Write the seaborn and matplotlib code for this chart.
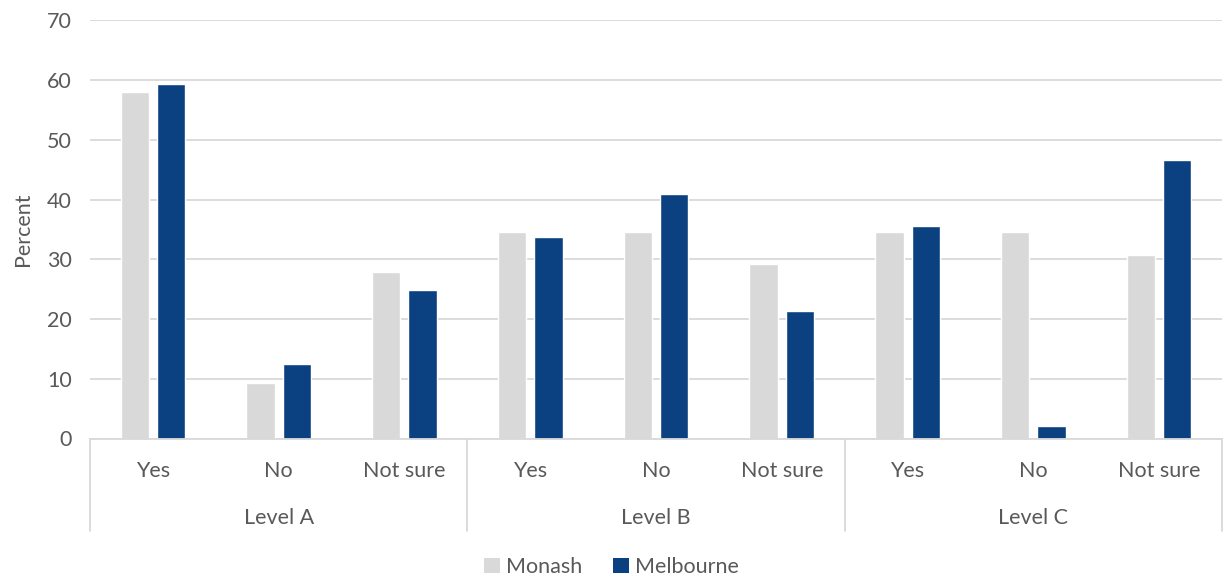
import matplotlib
matplotlib.use("Agg")
import matplotlib.pyplot as plt
from matplotlib.lines import Line2D
from matplotlib.patches import Patch
import seaborn as sns
import pandas as pd

levels = ["Level A", "Level B", "Level C"]
answers = ["Yes", "No", "Not sure"]
schools = ["Monash", "Melbourne"]
monash = [58.0, 9.3, 27.8, 34.5, 34.5, 29.2, 34.5, 34.5, 30.7]
melbourne = [59.4, 12.4, 24.9, 33.8, 41.0, 21.3, 35.5, 2.1, 46.6]
colors = {"Monash": "#D9D9D9", "Melbourne": "#0B4180"}

rows = []
cats = []
for i, lvl in enumerate(levels):
    for j, ans in enumerate(answers):
        k = i * 3 + j
        cat = f"{lvl}|{ans}"
        cats.append(cat)
        rows.append({"cat": cat, "school": "Monash", "value": monash[k]})
        rows.append({"cat": cat, "school": "Melbourne", "value": melbourne[k]})
df = pd.DataFrame(rows)

sns.set_theme(style="white")
plt.rcParams["font.family"] = ["Lato", "DejaVu Sans"]
text_color = "#595959"
grid_color = "#D9D9D9"
fs = 15.5

W, H = 1223, 579
fig = plt.figure(figsize=(W / 100, H / 100), dpi=100)
left, right, top, bottom = 90, 1222, 20.3, 438.5
ax = fig.add_axes([left / W, 1 - bottom / H, (right - left) / W, (bottom - top) / H])

sns.barplot(data=df, x="cat", y="value", hue="school", order=cats,
            hue_order=schools, palette=colors, width=0.577, gap=0.22,
            saturation=1, legend=False, ax=ax)

ax.set_ylim(0, 70)
ax.set_xlim(-0.5, len(cats) - 0.5)
ax.set_yticks(range(0, 71, 10))
ax.yaxis.grid(True, color=grid_color, linewidth=1.3)
ax.set_axisbelow(True)
for s in ["top", "right", "left"]:
    ax.spines[s].set_visible(False)
ax.spines["bottom"].set_color(grid_color)
ax.spines["bottom"].set_linewidth(1.3)
ax.tick_params(axis="y", length=0, labelsize=fs, labelcolor=text_color, pad=13)
ax.tick_params(axis="x", length=0, labelsize=fs, labelcolor=text_color, pad=16)
ax.set_xticks(range(len(cats)))
ax.set_xticklabels([c.split("|")[1] for c in cats])
ax.set_xlabel("")
ax.set_ylabel("Percent", fontsize=fs, color=text_color, labelpad=10)

# group labels and separators below the axis
trans = ax.get_xaxis_transform()
for i, lvl in enumerate(levels):
    ax.text(i * 3 + 1, -(518 - bottom) / (bottom - top), lvl, transform=trans,
            ha="center", va="center", fontsize=fs, color=text_color)
for b in [-0.5, 2.5, 5.5, 8.5]:
    ax.add_line(Line2D([b, b], [0, -(531 - bottom) / (bottom - top)],
                       transform=trans, color=grid_color, linewidth=1.3,
                       clip_on=False))

handles = [Patch(facecolor=colors[s], edgecolor="none", label=s) for s in schools]
fig.legend(handles=handles, loc="center", bbox_to_anchor=(0.5, 1 - 567 / H),
           ncol=2, frameon=False, fontsize=fs, handlelength=0.75,
           handleheight=0.75, handletextpad=0.3, columnspacing=1.4,
           labelcolor=text_color)

fig.savefig("out.png", dpi=100)
